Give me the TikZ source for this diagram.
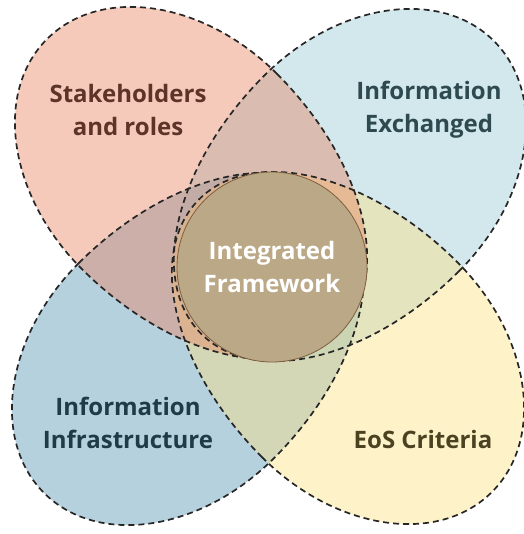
\documentclass[tikz,border=0pt]{standalone}
\usepackage{fontspec}
\setmainfont{Open Sans}
\usepackage{tikz}
\usetikzlibrary{positioning}

\definecolor{petblue}{RGB}{82,145,177}
\definecolor{petlight}{RGB}{150,200,212}
\definecolor{petpink}{RGB}{232,128,92}
\definecolor{petyellow}{RGB}{252,225,127}
\definecolor{hubfill}{RGB}{187,168,134}
\definecolor{hubrim}{RGB}{125,95,65}
\definecolor{txtpink}{RGB}{92,52,40}
\definecolor{txtlight}{RGB}{46,74,80}
\definecolor{txtblue}{RGB}{31,58,72}
\definecolor{txtyellow}{RGB}{74,66,32}

\begin{document}
\begin{tikzpicture}[x=1pt, y=-1pt, font=\bfseries\fontsize{24}{33}\selectfont,
  petal/.style={fill opacity=0.42},
  rim/.style={draw=black!85, dash pattern=on 6pt off 4pt, line width=1.7pt},
  lbl/.style={align=center, text=#1}]
\useasboundingbox (0,0) rectangle (523,534);
% egg shaped petals: blunt end out, narrow end to the middle
\def\egg{(18,138) arc[start angle=90, end angle=270, x radius=227, y radius=138]
  arc[start angle=-90, end angle=90, x radius=187, y radius=138] -- cycle}
% fills first, then the dashed outlines on top
\foreach \x/\y/\a/\c in {189/348/225/petblue, 349/186/45/petlight, 347/347/315/petyellow, 192/184/135/petpink}
  \fill[petal, fill=\c, shift={(\x,\y)}, rotate=\a] \egg;
\foreach \x/\y/\a in {189/348/225, 349/186/45, 347/347/315, 192/184/135}
  \draw[rim, shift={(\x,\y)}, rotate=\a] \egg;
\node[circle, minimum size=190pt, inner sep=0, fill=hubfill, draw=hubrim, line width=0.8pt] (hub) at (272,267) {};
\node[lbl=white] (hubtxt) at (hub) {Integrated\\Framework};
\node[lbl=txtpink] (stake) at (128,110) {Stakeholders\\and roles};
\node[lbl=txtlight] (exch) at (429,110) {Information\\Exchanged};
\node[lbl=txtblue] (infra) at (128,423) {Information\\Infrastructure};
\node[lbl=txtyellow] (eos) at (423,439) {EoS Criteria};
\end{tikzpicture}
\end{document}
